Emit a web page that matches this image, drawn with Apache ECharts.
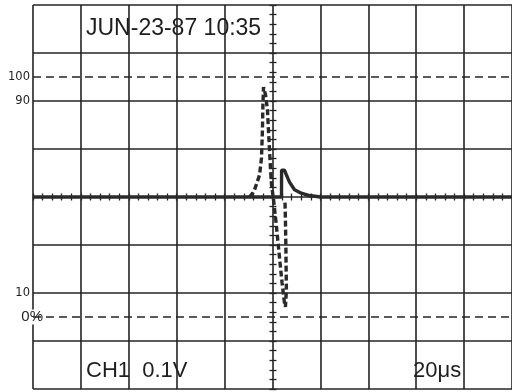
<!DOCTYPE html>
<html><head><meta charset="utf-8">
<script src="https://cdn.jsdelivr.net/npm/echarts@6/dist/echarts.min.js"></script>
<style>html,body{margin:0;padding:0;background:#fff}#c{width:512px;height:392px}</style>
</head><body><div id="c"></div>
<script>
// Time axis in microseconds (20 µs/div), voltage axis in mV (0.1 V/div)
const timeMin = 0, timeMax = 200, timeStep = 20;
const voltMin = -400, voltMax = 400, voltStep = 100;
const refLevels = [250, -250];                 // 100% and 0% dashed reference lines
const pctTickValues = [250, 200, -200, -250];
const pctTickLabels = ['100', '90', '10', '0%'];

// Dashed trace
const dashTime = [90.4, 91.7, 92.5, 94.6, 95.4, 95.8, 96.0, 96.25, 97.1, 97.9, 98.3, 98.75, 99.2, 99.6, 100.4, 101.5, 102.9, 104.0, 105.0, 105.4, 105.8, 105.6, 105.4, 105.2];
const dashMv   = [0,    8,    15,   46,   81,   140,  192,  229,   213,  181,  140,  98,    56,   25,   -4,    -54,   -125,  -179,  -221,  -229,  -194,  -110,  -48,   -6];

// Solid trace
const solidTime = [0, 103.75, 103.8, 105.0, 105.8, 107.1, 109.2, 112.0, 115.4, 120, 200];
const solidMv   = [0, 0,      56,    56,    46,    31,    15,    8,     3,     0,   0];

const headerText = 'JUN-23-87 10:35';
const channelText = 'CH1  0.1V';
const timebaseText = '20μs';

const ink = '#242424';
const gridStyle = {color: ink, width: 1.6};
const tickStyle = {color: ink, width: 1.3};
const bigFont = '22px "Liberation Sans", Arial, sans-serif';
const headFont = '23px "Liberation Sans", Arial, sans-serif';

function centerAxis(kind, inside) {
  const base = {
    type: 'value', gridIndex: 0,
    axisLine: {show: false},
    axisTick: {show: true, inside: inside, length: 3.5, lineStyle: tickStyle},
    minorTick: {show: true, splitNumber: 5, length: 3.5, lineStyle: tickStyle},
    axisLabel: {show: false}, splitLine: {show: false}
  };
  if (kind === 'x') return Object.assign(base, {min: timeMin, max: timeMax, interval: timeStep, position: 'bottom', offset: -192});
  return Object.assign(base, {min: voltMin, max: voltMax, interval: voltStep, position: 'left', offset: -240});
}

const chart = echarts.init(document.getElementById('c'), null, {renderer: 'canvas'});
chart.setOption({
  animation: false,
  backgroundColor: '#fff',
  grid: {left: 33, top: 5, width: 480, height: 384, containLabel: false},
  xAxis: [
    {type: 'value', min: timeMin, max: timeMax, interval: timeStep,
     axisLine: {show: false}, axisTick: {show: false}, axisLabel: {show: false},
     splitLine: {show: true, lineStyle: gridStyle}},
    centerAxis('x', false), centerAxis('x', true)
  ],
  yAxis: [
    {type: 'value', min: voltMin, max: voltMax, interval: voltStep,
     axisLine: {show: false}, axisTick: {show: false}, axisLabel: {show: false},
     splitLine: {show: true, lineStyle: gridStyle}},
    centerAxis('y', false), centerAxis('y', true),
    {type: 'value', min: voltMin, max: voltMax, interval: 50, position: 'left',
     axisLine: {show: false}, axisTick: {show: false}, splitLine: {show: false},
     axisLabel: {
       show: true, margin: -10,
       formatter: function (v) {
         const i = pctTickValues.indexOf(v);
         if (i < 0) return '';
         const lab = pctTickLabels[i];
         return lab.indexOf('%') >= 0 ? '{b|' + lab + '}' : '{a|' + lab + '}';
       },
       rich: {
         a: {fontSize: 11.5, fontFamily: '"DejaVu Sans", sans-serif', color: '#1e1e1e', padding: [0, 13, 0, 0]},
         b: {fontSize: 15, fontFamily: '"Liberation Sans", Arial, sans-serif', color: '#1e1e1e', backgroundColor: '#fff'}
       }
     }}
  ],
  series: [
    {type: 'line', xAxisIndex: 0, yAxisIndex: 0, symbol: 'none', z: 3,
     data: solidTime.map((t, i) => [t, solidMv[i]]),
     lineStyle: {color: '#2a2a2a', width: 3.4},
     markLine: {silent: true, symbol: 'none', label: {show: false},
       lineStyle: {type: [8, 5], color: ink, width: 1.6},
       data: refLevels.map(v => ({yAxis: v}))}},
    {type: 'line', xAxisIndex: 0, yAxisIndex: 0, symbol: 'none', z: 4,
     data: dashTime.map((t, i) => [t, dashMv[i]]),
     lineStyle: {color: '#2a2a2a', width: 3.4, type: [6, 3]}}
  ],
  graphic: [
    {type: 'text', x: 86, y: 29, z: 10, style: {text: headerText, font: headFont, fill: '#1e1e1e', verticalAlign: 'middle'}},
    {type: 'text', x: 86, y: 371, z: 10, style: {text: channelText, font: bigFont, fill: '#1e1e1e', verticalAlign: 'middle'}},
    {type: 'text', x: 413, y: 371, z: 10, style: {text: timebaseText, font: bigFont, fill: '#1e1e1e', verticalAlign: 'middle'}}
  ]
});
</script></body></html>
